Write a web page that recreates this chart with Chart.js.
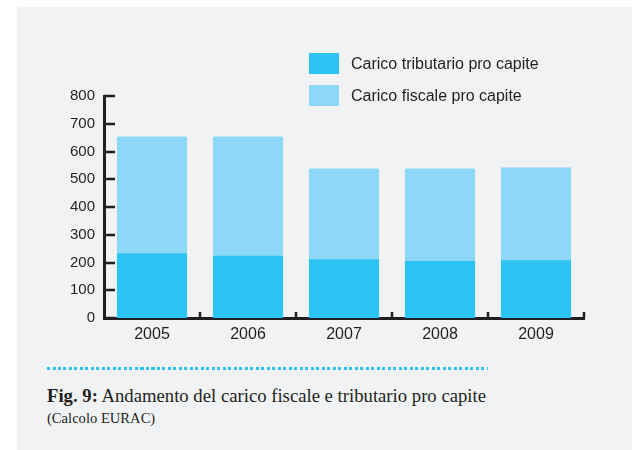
<!DOCTYPE html>
<html lang="it">
<head>
<meta charset="utf-8">
<title>Andamento del carico fiscale e tributario pro capite</title>
<script src="https://cdn.jsdelivr.net/npm/chart.js@4/dist/chart.umd.min.js"></script>
<style>
  html, body { margin: 0; padding: 0; background: #ffffff; }
  body { width: 632px; height: 450px; position: relative; overflow: hidden; }
  #pannello { position: absolute; left: 17px; top: 7px; right: 0; bottom: 0; background: #f1f2f4; }
  #grafico { position: absolute; left: 0; top: 0; width: 632px; height: 350px; }
  #legenda { position: absolute; left: 309px; top: 53px; font: 16px "Liberation Sans", Arial, sans-serif; color: #231f20; }
  .voce { display: flex; align-items: center; height: 21px; margin-bottom: 11px; }
  .voce span.box { width: 30px; height: 21px; margin-right: 12px; display: inline-block; }
  #puntini { position: absolute; left: 47px; top: 367px; width: 441px; height: 3px;
    background: repeating-linear-gradient(to right, #2bc3f2 0 3px, transparent 3px 5.5px); }
  #didascalia { position: absolute; left: 47px; top: 384px; font-family: "Liberation Serif", "DejaVu Serif", serif; color: #231f20; }
  #didascalia .titolo { font-size: 18.7px; line-height: 24px; }
  #didascalia .fonte { font-size: 14.6px; line-height: 20px; }
</style>
</head>
<body>
<div id="pannello"></div>
<canvas id="grafico" width="632" height="350"></canvas>
<div id="legenda"></div>
<div id="puntini"></div>
<div id="didascalia">
  <div class="titolo"><b>Fig. 9:</b> Andamento del carico fiscale e tributario pro capite</div>
  <div class="fonte">(Calcolo EURAC)</div>
</div>
<script>
// dati
const anni = ["2005", "2006", "2007", "2008", "2009"];
const caricoTributario = [233, 224, 212, 205, 208];
const caricoFiscale = [654, 654, 539, 539, 542];
const tickY = [0, 100, 200, 300, 400, 500, 600, 700, 800];

const coloreScuro = "#2cc4f2";
const coloreChiaro = "#8dd8f6";
const coloreAssi = "#231f20";

// tacche interne sugli assi (verso l'area del grafico)
const tacchePlugin = {
  id: "tacche",
  afterDraw(chart) {
    const ctx = chart.ctx;
    const area = chart.chartArea;
    const sy = chart.scales.y;
    const sx = chart.scales.x;
    ctx.save();
    ctx.strokeStyle = coloreAssi;
    ctx.lineWidth = 2.5;
    tickY.forEach(v => {
      const y = Math.round(sy.getPixelForValue(v));
      ctx.beginPath();
      ctx.moveTo(area.left, y);
      ctx.lineTo(area.left + 11, y);
      ctx.stroke();
    });
    for (let i = 1; i <= anni.length; i++) {
      const x = Math.round(sx.getPixelForValue(i - 0.5));
      ctx.beginPath();
      ctx.moveTo(x, area.bottom);
      ctx.lineTo(x, area.bottom - 6);
      ctx.stroke();
    }
    ctx.restore();
  }
};

const chart = new Chart(document.getElementById("grafico"), {
  type: "bar",
  data: {
    labels: anni,
    datasets: [
      {
        label: "Carico tributario pro capite",
        data: caricoTributario,
        backgroundColor: coloreScuro,
        grouped: false,
        barPercentage: 0.73,
        categoryPercentage: 1
      },
      {
        label: "Carico fiscale pro capite",
        data: caricoFiscale,
        backgroundColor: coloreChiaro,
        grouped: false,
        barPercentage: 0.73,
        categoryPercentage: 1
      }
    ]
  },
  options: {
    responsive: false,
    animation: false,
    devicePixelRatio: 1,
    layout: { padding: { top: 96, right: 48, left: 0, bottom: 0 } },
    plugins: { legend: { display: false }, tooltip: { enabled: false } },
    scales: {
      x: {
        grid: { display: false, drawTicks: false },
        border: { display: true, color: coloreAssi, width: 3 },
        ticks: {
          color: coloreAssi,
          padding: 7,
          font: { family: "'Liberation Sans', Arial, sans-serif", size: 16 }
        },
        afterFit(scale) { scale.height = 32; }
      },
      y: {
        min: 0,
        max: 800,
        afterBuildTicks(scale) { scale.ticks = tickY.map(v => ({ value: v })); },
        grid: { display: false, drawTicks: false },
        border: { display: true, color: coloreAssi, width: 3 },
        ticks: {
          color: coloreAssi,
          padding: 9,
          font: { family: "'Liberation Sans', Arial, sans-serif", size: 15 }
        },
        afterFit(scale) { scale.width = 104; }
      }
    }
  },
  plugins: [tacchePlugin]
});

// legenda HTML costruita dai dataset
const legenda = document.getElementById("legenda");
chart.data.datasets.forEach(ds => {
  const voce = document.createElement("div");
  voce.className = "voce";
  voce.innerHTML = `<span class="box" style="background:${ds.backgroundColor}"></span><span>${ds.label}</span>`;
  legenda.appendChild(voce);
});
</script>
</body>
</html>
